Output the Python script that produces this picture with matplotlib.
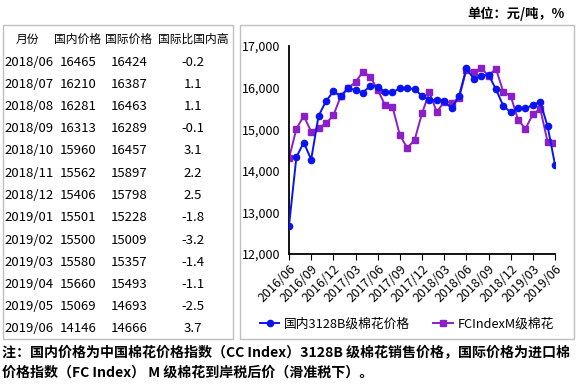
import matplotlib
matplotlib.use('Agg')
import matplotlib.pyplot as plt
from matplotlib.patches import Rectangle

plt.rcParams['font.family'] = ['Noto Sans CJK SC', 'DejaVu Sans']

# table data
months = ['2018/06', '2018/07', '2018/08', '2018/09', '2018/10', '2018/11', '2018/12',
          '2019/01', '2019/02', '2019/03', '2019/04', '2019/05', '2019/06']
dom_tab = [16465, 16210, 16281, 16313, 15960, 15562, 15406, 15501, 15500, 15580, 15660, 15069, 14146]
intl_tab = [16424, 16387, 16463, 16289, 16457, 15897, 15798, 15228, 15009, 15357, 15493, 14693, 14666]
diff_tab = ['-0.2', '1.1', '1.1', '-0.1', '3.1', '2.2', '2.5', '-1.8', '-3.2', '-1.4', '-1.1', '-2.5', '3.7']
headers = ['月份', '国内价格', '国际价格', '国际比国内高']

# chart data, 2016/06 .. 2019/06 monthly
domestic = [12680, 14330, 14680, 14270, 15320, 15670, 15910, 15790, 15990, 15940,
            15880, 16040, 16020, 15900, 15890, 15980, 15990, 15960, 15800, 15700,
            15700, 15680, 15500, 15790] + dom_tab
international = [14300, 15010, 15320, 14940, 15030, 15140, 15330, 15790, 15990, 16130,
                 16380, 16260, 15950, 15580, 15540, 14860, 14550, 14740, 15380, 15890,
                 15410, 15660, 15640, 15740] + intl_tab
xticklabels = ['2016/06', '2016/09', '2016/12', '2017/03', '2017/06', '2017/09', '2017/12',
               '2018/03', '2018/06', '2018/09', '2018/12', '2019/03', '2019/06']

W, H = 580, 387
fig = plt.figure(figsize=(5.8, 3.87), dpi=100)

def fx(px):
    return px / W

def fy(py):
    return 1 - py / H

# boxes
fig.add_artist(Rectangle((fx(3), fy(339)), fx(230) - fx(0), fy(25) - fy(339),
                         transform=fig.transFigure, fill=False, edgecolor='#c0c0c0', lw=1))
fig.add_artist(Rectangle((fx(240), fy(339)), fx(334) - fx(0), fy(25) - fy(339),
                         transform=fig.transFigure, fill=False, edgecolor='#c0c0c0', lw=1))

# table text
fs = 9.5
hfs = 8.5
fig.text(fx(27), fy(39), headers[0], ha='center', va='center', fontsize=hfs)
fig.text(fx(77.5), fy(39), headers[1], ha='center', va='center', fontsize=hfs)
fig.text(fx(129), fy(39), headers[2], ha='center', va='center', fontsize=hfs)
fig.text(fx(193), fy(39), headers[3], ha='center', va='center', fontsize=hfs)
for i in range(len(months)):
    y = fy(62 + i * 22.25)
    fig.text(fx(4), y, months[i], ha='left', va='center', fontsize=fs)
    fig.text(fx(60), y, str(dom_tab[i]), ha='left', va='center', fontsize=fs)
    fig.text(fx(111), y, str(intl_tab[i]), ha='left', va='center', fontsize=fs)
    fig.text(fx(193), y, diff_tab[i], ha='center', va='center', fontsize=fs)

# chart
ax = fig.add_axes([fx(289), fy(254), fx(555) - fx(289), fy(46) - fy(254)])
x = list(range(len(domestic)))
ax.plot(x, international, '-s', color='#8b1fc8', lw=1.4, ms=4.3, label='FCIndexM级棉花', zorder=2)
ax.plot(x, domestic, '-o', color='#0a14f0', lw=1.4, ms=4.5, label='国内3128B级棉花价格', zorder=3)
ax.set_xlim(0, 36)
ax.set_ylim(12000, 17000)
ax.set_yticks([12000, 13000, 14000, 15000, 16000, 17000])
ax.set_yticklabels(['{:,}'.format(v) for v in [12000, 13000, 14000, 15000, 16000, 17000]], fontsize=9)
ax.set_xticks(list(range(0, 37, 3)))
ax.set_xticklabels(xticklabels, rotation=45, ha='right', rotation_mode='anchor', fontsize=9)
ax.tick_params(axis='y', length=0, pad=6)
ax.tick_params(axis='x', length=4, direction='out', pad=2)
ax.spines['top'].set_visible(False)
ax.spines['right'].set_visible(False)
ax.spines['left'].set_linewidth(1.3)
ax.spines['bottom'].set_linewidth(1.3)

h, l = ax.get_legend_handles_labels()
fig.legend(h[::-1], l[::-1], loc='center', bbox_to_anchor=(fx(407), fy(324)), ncol=2,
           frameon=False, fontsize=9.2, handlelength=1.5, handletextpad=0.4,
           columnspacing=1.8, borderpad=0)

fig.text(fx(565), fy(14), '单位：元/吨，%', ha='right', va='center', fontsize=9.5, fontweight='bold')
fig.text(fx(2), fy(352), '注：国内价格为中国棉花价格指数（CC Index）3128B 级棉花销售价格，国际价格为进口棉',
         ha='left', va='center', fontsize=10.1, fontweight='bold')
fig.text(fx(2), fy(373), '价格指数（FC Index） M 级棉花到岸税后价（滑准税下）。',
         ha='left', va='center', fontsize=10.1, fontweight='bold')

fig.savefig('out.png', dpi=100)
